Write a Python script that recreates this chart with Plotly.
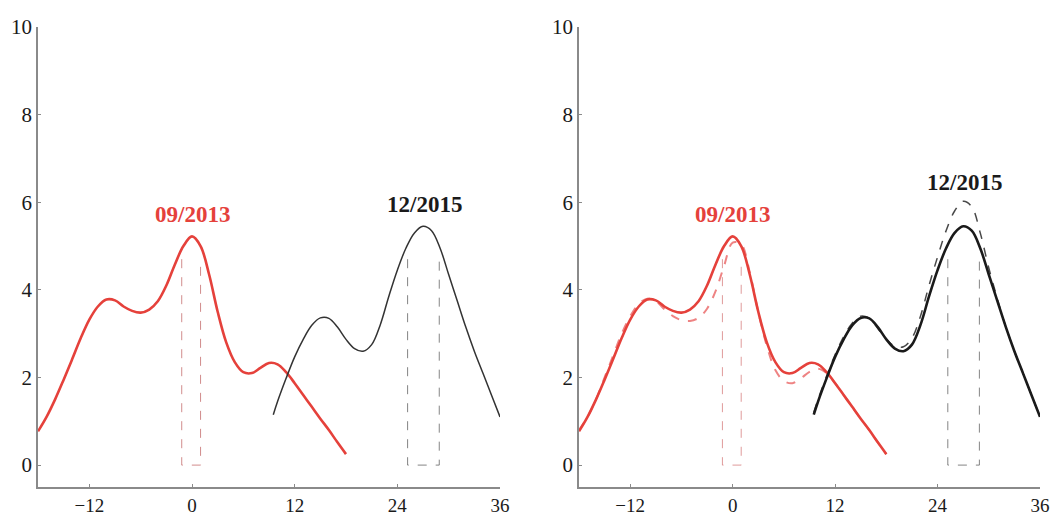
import plotly.graph_objects as go

# ---- data ----
red_x = list(range(-18, 19))
red_solid = [0.77, 1.1, 1.5, 1.95, 2.42, 2.9, 3.32, 3.62, 3.78, 3.76, 3.62, 3.52, 3.48, 3.55, 3.74,
             4.1, 4.58, 5.0, 5.22, 5.0, 4.35, 3.5, 2.8, 2.35, 2.12, 2.1, 2.22, 2.33, 2.3, 2.12,
             1.87, 1.6, 1.33, 1.06, 0.8, 0.52, 0.25]
red_dashed = [0.8, 1.1, 1.5, 2.0, 2.5, 3.0, 3.4, 3.68, 3.8, 3.74, 3.56, 3.4, 3.31, 3.29, 3.36,
              3.57, 3.97, 4.55, 5.08, 5.04, 4.4, 3.5, 2.72, 2.17, 1.92, 1.87, 1.98, 2.13, 2.2, 2.1,
              1.87, 1.6, 1.33, 1.06, 0.8, 0.52, 0.25]

blk_x = [9.5] + list(range(10, 37))
blk_solid = [1.15, 1.45, 1.98, 2.47, 2.87, 3.19, 3.36, 3.35, 3.15, 2.87, 2.66, 2.6, 2.75, 3.2, 3.85,
             4.45, 4.95, 5.3, 5.45, 5.35, 4.95, 4.35, 3.75, 3.15, 2.6, 2.1, 1.6, 1.1]
blk_dashed = [1.2, 1.5, 2.03, 2.52, 2.93, 3.24, 3.4, 3.35, 3.12, 2.87, 2.71, 2.7, 2.9, 3.4, 4.1,
              4.75, 5.35, 5.8, 6.02, 5.9, 5.3, 4.5, 3.8, 3.15, 2.6, 2.1, 1.6, 1.1]

red_band = [-1.2, 1.0]
red_band_top = [4.7, 4.72]
blk_band = [25.2, 28.9]
blk_band_top = [4.7, 4.7]

labels = ["09/2013", "12/2015"]
label_x = [0, 27.2]
label_y_left = [5.72, 5.95]
label_y_right = [5.72, 6.45]

x_ticks = [-12, 0, 12, 24, 36]
y_ticks = [0, 2, 4, 6, 8, 10]

RED = "#e5413b"
RED_DASH = "rgba(232,90,90,0.75)"
BLK = "#1a1a1a"
SERIF = "Liberation Serif, Times New Roman, serif"

fig = go.Figure()

def band(xa, ya, color, xref, yref):
    fig.add_trace(go.Scatter(x=[xa[0], xa[0], xa[1], xa[1]], y=[ya[0], 0, 0, ya[1]],
                             mode="lines", line=dict(color=color, width=1, dash="dash"),
                             xaxis=xref, yaxis=yref, showlegend=False, hoverinfo="skip"))

# left panel
band(red_band, red_band_top, "rgba(190,90,90,0.7)", "x", "y")
band(blk_band, blk_band_top, "rgba(80,80,80,0.7)", "x", "y")
fig.add_trace(go.Scatter(x=red_x, y=red_solid, mode="lines", line=dict(color=RED, width=2.6, shape="spline"),
                         xaxis="x", yaxis="y", showlegend=False))
fig.add_trace(go.Scatter(x=blk_x, y=blk_solid, mode="lines", line=dict(color="#333333", width=1.5, shape="spline"),
                         xaxis="x", yaxis="y", showlegend=False))

# right panel
band(red_band, red_band_top, "rgba(210,110,110,0.7)", "x2", "y2")
band(blk_band, blk_band_top, "rgba(80,80,80,0.7)", "x2", "y2")
fig.add_trace(go.Scatter(x=red_x, y=red_dashed, mode="lines",
                         line=dict(color=RED_DASH, width=2, dash="dash", shape="spline"),
                         xaxis="x2", yaxis="y2", showlegend=False))
fig.add_trace(go.Scatter(x=blk_x, y=blk_dashed, mode="lines",
                         line=dict(color="rgba(40,40,40,0.85)", width=1.5, dash="dash", shape="spline"),
                         xaxis="x2", yaxis="y2", showlegend=False))
fig.add_trace(go.Scatter(x=red_x, y=red_solid, mode="lines", line=dict(color=RED, width=2.6, shape="spline"),
                         xaxis="x2", yaxis="y2", showlegend=False))
fig.add_trace(go.Scatter(x=blk_x, y=blk_solid, mode="lines", line=dict(color=BLK, width=2.6, shape="spline"),
                         xaxis="x2", yaxis="y2", showlegend=False))

for (xr, yr, ly) in [("x", "y", label_y_left), ("x2", "y2", label_y_right)]:
    for t, lx, yy, c in zip(labels, label_x, ly, [RED, BLK]):
        fig.add_annotation(x=lx, y=yy, xref=xr, yref=yr, text="<b>%s</b>" % t, showarrow=False,
                           font=dict(family=SERIF, size=23, color=c))

axis_common = dict(showgrid=False, zeroline=False, showline=True, linecolor="#8a8a8a", linewidth=1.5,
                   ticks="inside", ticklen=3, tickcolor="#8a8a8a", automargin=False)
xfont = dict(family=SERIF, size=19, color="#1a1a1a")
yfont = dict(family=SERIF, size=21, color="#1a1a1a")

fig.update_layout(
    width=1054, height=518, margin=dict(l=0, r=0, t=0, b=0),
    paper_bgcolor="white", plot_bgcolor="white",
    xaxis=dict(domain=[38/1054, 500/1054], range=[-18, 36], tickvals=x_ticks, anchor="y",
               tickfont=xfont, **axis_common),
    yaxis=dict(domain=[31/518, 491/518], range=[-0.5, 10], tickvals=y_ticks, anchor="x",
               tickfont=yfont, **axis_common),
    xaxis2=dict(domain=[579/1054, 1040/1054], range=[-18, 36], tickvals=x_ticks, anchor="y2",
                tickfont=xfont, **axis_common),
    yaxis2=dict(domain=[31/518, 491/518], range=[-0.5, 10], tickvals=y_ticks, anchor="x2",
                tickfont=yfont, **axis_common),
)

fig.write_html("out.html")
